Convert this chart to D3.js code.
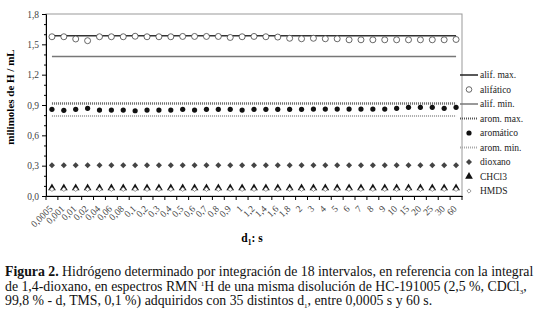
<!DOCTYPE html>
<html>
<head>
<meta charset="utf-8">
<script src="https://cdn.jsdelivr.net/npm/d3@7"></script>
<style>
  body { margin: 0; background: #fff; }
  svg text { font-family: "Liberation Serif", "Times New Roman", serif; }
</style>
</head>
<body>
<script>
const categories = ["0,0005","0,001","0,01","0,02","0,04","0,06","0,08","0,1","0,2","0,3","0,4","0,5","0,6","0,7","0,8","0,9","1","1,2","1,4","1,6","1,8","2","3","4","5","6","7","8","9","10","15","20","25","30","60"];

const alifatico = [1.575,1.575,1.553,1.536,1.575,1.575,1.575,1.58,1.575,1.575,1.575,1.578,1.578,1.578,1.578,1.568,1.575,1.578,1.575,1.572,1.56,1.555,1.56,1.555,1.555,1.545,1.545,1.545,1.545,1.545,1.545,1.545,1.545,1.545,1.548];
const aromatico = [0.857,0.847,0.857,0.867,0.85,0.85,0.85,0.843,0.85,0.85,0.85,0.857,0.85,0.857,0.857,0.857,0.85,0.857,0.857,0.857,0.857,0.857,0.86,0.86,0.86,0.86,0.86,0.86,0.86,0.867,0.877,0.877,0.877,0.867,0.877];
const dioxano = [0.305,0.305,0.305,0.305,0.305,0.305,0.305,0.305,0.305,0.305,0.305,0.305,0.305,0.305,0.305,0.305,0.305,0.305,0.305,0.305,0.305,0.305,0.305,0.305,0.305,0.305,0.305,0.305,0.305,0.305,0.305,0.305,0.305,0.305,0.305];
const chcl3 = [0.08,0.08,0.08,0.08,0.08,0.08,0.08,0.08,0.08,0.08,0.08,0.08,0.08,0.08,0.08,0.08,0.08,0.08,0.08,0.08,0.08,0.08,0.08,0.08,0.08,0.08,0.08,0.08,0.08,0.08,0.08,0.08,0.08,0.08,0.08];
const hmds = [0.066,0.066,0.066,0.066,0.066,0.066,0.066,0.066,0.066,0.066,0.066,0.066,0.066,0.066,0.066,0.066,0.066,0.066,0.066,0.066,0.066,0.066,0.066,0.066,0.066,0.066,0.066,0.066,0.066,0.066,0.066,0.066,0.066,0.066,0.066];

// reference levels (constant lines)
const alifMax = 1.585;
const alifMin = 1.38;
const aromMax = 0.915;
const aromMin = 0.79;

const yTicks = [0, 0.3, 0.6, 0.9, 1.2, 1.5, 1.8];
const yMinor = [0.1,0.2,0.4,0.5,0.7,0.8,1.0,1.1,1.3,1.4,1.6,1.7];

const W = 539, H = 325;
const pLeft = 46, pRight = 462, pTop = 14, pBottom = 196;

const svg = d3.select("body").append("svg")
  .attr("width", W).attr("height", H);

const x = d3.scaleBand().domain(categories).range([pLeft, pRight]);
const y = d3.scaleLinear().domain([0, 1.8]).range([pBottom, pTop]);
const cx = c => x(c) + x.bandwidth() / 2;
const fmt = d => d3.format(".1f")(d).replace(".", ",");

// plot frame
svg.append("rect")
  .attr("x", pLeft).attr("y", pTop)
  .attr("width", pRight - pLeft).attr("height", pBottom - pTop)
  .attr("fill", "none").attr("stroke", "#999").attr("stroke-width", 1);

// y axis
const yAxis = svg.append("g")
  .attr("transform", `translate(${pLeft},0)`)
  .call(d3.axisLeft(y).tickValues(yTicks).tickFormat(fmt).tickSize(4).tickPadding(3));
yAxis.select(".domain").attr("stroke", "#000");
yAxis.selectAll("text").attr("font-size", 9.5).attr("fill", "#444");

svg.append("g")
  .attr("transform", `translate(${pLeft},0)`)
  .call(d3.axisLeft(y).tickValues(yMinor).tickFormat("").tickSize(2))
  .select(".domain").remove();

// x axis
const xAxis = svg.append("g")
  .attr("transform", `translate(0,${pBottom})`)
  .call(d3.axisBottom(x).tickSize(0).tickPadding(0));
xAxis.select(".domain").attr("stroke", "#000");
xAxis.selectAll("text")
  .attr("font-size", 9.5).attr("fill", "#444")
  .attr("text-anchor", "end")
  .attr("dy", "0.35em")
  .attr("transform", "translate(-1,11) rotate(-45)");

// category boundary ticks
const bounds = categories.map(c => x(c)).concat([x.range()[1]]);
svg.append("g").selectAll("line").data(bounds).join("line")
  .attr("x1", d => d).attr("x2", d => d)
  .attr("y1", pBottom).attr("y2", pBottom + 4)
  .attr("stroke", "#000").attr("stroke-width", 1);

// reference lines
const first = categories[0], last = categories[categories.length - 1];
function hline(v, color, width, dash) {
  svg.append("line")
    .attr("x1", cx(first)).attr("x2", cx(last))
    .attr("y1", y(v)).attr("y2", y(v))
    .attr("stroke", color).attr("stroke-width", width)
    .attr("stroke-dasharray", dash || null);
}
hline(alifMax, "#333", 1.5);
hline(alifMin, "#777", 1.5);
hline(aromMax, "#666", 2.5, "1,1");
hline(aromMin, "#aaa", 2, "1,1");

// markers
const sym = (type, size) => d3.symbol().type(type).size(size)();

svg.append("g").selectAll("circle").data(alifatico).join("circle")
  .attr("cx", (d, i) => cx(categories[i])).attr("cy", d => y(d))
  .attr("r", 3).attr("fill", "#fff").attr("stroke", "#444").attr("stroke-width", 0.8);

svg.append("g").selectAll("circle").data(aromatico).join("circle")
  .attr("cx", (d, i) => cx(categories[i])).attr("cy", d => y(d))
  .attr("r", 2.6).attr("fill", "#111");

svg.append("g").selectAll("path").data(dioxano).join("path")
  .attr("d", sym(d3.symbolSquare, 18))
  .attr("transform", (d, i) => `translate(${cx(categories[i])},${y(d)}) rotate(45)`)
  .attr("fill", "#444");

svg.append("g").selectAll("path").data(chcl3).join("path")
  .attr("d", sym(d3.symbolTriangle, 26))
  .attr("transform", (d, i) => `translate(${cx(categories[i])},${y(d)})`)
  .attr("fill", "#111");

svg.append("g").selectAll("path").data(hmds).join("path")
  .attr("d", sym(d3.symbolSquare, 10))
  .attr("transform", (d, i) => `translate(${cx(categories[i])},${y(d)}) rotate(45)`)
  .attr("fill", "#fff").attr("stroke", "#666").attr("stroke-width", 0.6);

// legend
const legend = [
  { label: "alif. max.", kind: "line", color: "#222", w: 1.5 },
  { label: "alifático", kind: "circle", fill: "#fff", stroke: "#444", r: 2.8 },
  { label: "alif. min.", kind: "line", color: "#777", w: 1.5 },
  { label: "arom. max.", kind: "line", color: "#555", w: 2, dash: "1,1" },
  { label: "aromático", kind: "circle", fill: "#111", stroke: "none", r: 2.6 },
  { label: "arom. min.", kind: "line", color: "#aaa", w: 2, dash: "1,1" },
  { label: "dioxano", kind: "sym", type: d3.symbolSquare, size: 18, rot: 45, fill: "#444", stroke: "none" },
  { label: "CHCl3", kind: "sym", type: d3.symbolTriangle, size: 26, rot: 0, fill: "#111", stroke: "none" },
  { label: "HMDS", kind: "sym", type: d3.symbolSquare, size: 9, rot: 45, fill: "#fff", stroke: "#777" }
];
const lg = svg.append("g").selectAll("g").data(legend).join("g")
  .attr("transform", (d, i) => `translate(460,${75 + i * 14.5})`);
lg.filter(d => d.kind === "line").append("line")
  .attr("x1", 0).attr("x2", 18).attr("y1", 0).attr("y2", 0)
  .attr("stroke", d => d.color).attr("stroke-width", d => d.w)
  .attr("stroke-dasharray", d => d.dash || null);
lg.filter(d => d.kind === "circle").append("circle")
  .attr("cx", 9).attr("cy", 0).attr("r", d => d.r)
  .attr("fill", d => d.fill).attr("stroke", d => d.stroke).attr("stroke-width", 0.8);
lg.filter(d => d.kind === "sym").append("path")
  .attr("d", d => sym(d.type, d.size))
  .attr("transform", d => `translate(9,0) rotate(${d.rot})`)
  .attr("fill", d => d.fill).attr("stroke", d => d.stroke).attr("stroke-width", 0.7);
lg.append("text")
  .attr("x", 20).attr("y", 0).attr("dy", "0.35em")
  .attr("font-size", 9.5).attr("fill", "#222")
  .text(d => d.label);

// axis titles
svg.append("text")
  .attr("transform", `translate(14,97) rotate(-90)`)
  .attr("text-anchor", "middle")
  .attr("font-size", 11).attr("font-weight", "bold")
  .text("milimoles de H / mL");

const xt = svg.append("text")
  .attr("x", 252).attr("y", 242)
  .attr("text-anchor", "middle")
  .attr("font-size", 11.5).attr("font-weight", "bold");
xt.append("tspan").text("d");
xt.append("tspan").attr("font-size", 7.5).attr("dy", 2.5).text("1");
xt.append("tspan").attr("dy", -2.5).text(": s");

// caption
const cap = svg.append("g").attr("font-size", 13.8).attr("fill", "#111");
const l1 = cap.append("text").attr("x", 5).attr("y", 276);
l1.append("tspan").attr("font-weight", "bold").text("Figura 2.");
l1.append("tspan").text(" Hidrógeno determinado por integración de 18 intervalos, en referencia con la integral");
const l2 = cap.append("text").attr("x", 5).attr("y", 290.5);
l2.append("tspan").text("de 1,4-dioxano, en espectros RMN ");
l2.append("tspan").attr("font-size", 7).attr("dy", -5).text("1");
l2.append("tspan").attr("dy", 5).text("H de una misma disolución de HC-191005 (2,5 %, CDCl");
l2.append("tspan").attr("font-size", 7).attr("dy", 3).text("3");
l2.append("tspan").attr("dy", -3).text(",");
const l3 = cap.append("text").attr("x", 5).attr("y", 305);
l3.append("tspan").text("99,8 % - d, TMS, 0,1 %) adquiridos con 35 distintos d");
l3.append("tspan").attr("font-size", 7).attr("dy", 3).text("1");
l3.append("tspan").attr("dy", -3).text(", entre 0,0005 s y 60 s.");
</script>
</body>
</html>
